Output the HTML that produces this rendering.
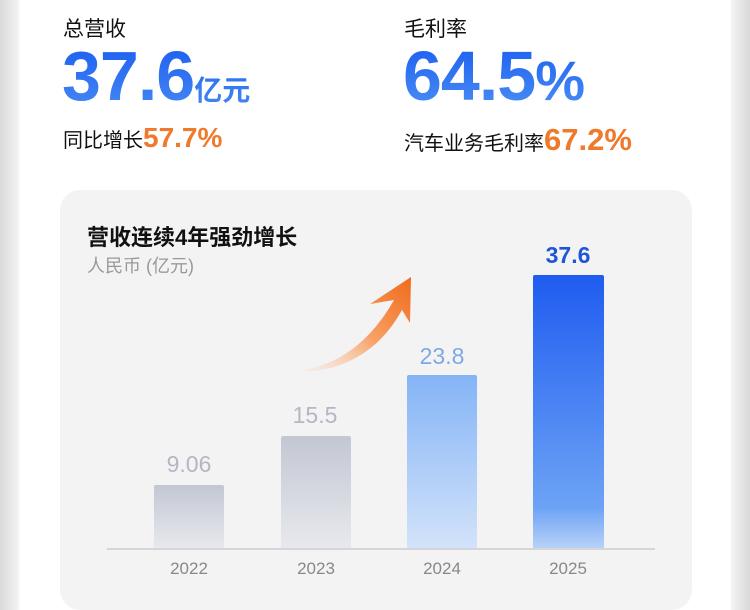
<!DOCTYPE html>
<html><head><meta charset="utf-8"><style>
body{margin:0;width:750px;height:593px;overflow:hidden;background:linear-gradient(90deg,#d9d9d9 0,#f2f2f2 18px,#fff 20px,#fff 730px,#f2f2f2 732px,#d9d9d9 750px);font-family:"Liberation Sans","Noto Sans CJK SC",sans-serif;position:relative}
.a{position:absolute;white-space:nowrap}
.big{background:linear-gradient(180deg,#1a5cf0,#4f93f5);-webkit-background-clip:text;background-clip:text;color:transparent;font-weight:bold}
</style></head><body>
<div class="a" style="left:63px;top:13px;font-size:21px;color:#111">总营收</div>
<div class="a big" style="left:62px;top:39px;font-size:70px;line-height:74px;letter-spacing:-1px">37.6<span style="font-size:28px;letter-spacing:0">亿元</span></div>
<div class="a" style="left:63px;top:122px;font-size:20px;color:#111">同比增长<span style="color:#ef7a2c;font-weight:bold;font-size:28px">57.7%</span></div>
<div class="a" style="left:404px;top:13px;font-size:21px;color:#111">毛利率</div>
<div class="a big" style="left:403px;top:39px;font-size:70px;line-height:74px;letter-spacing:-1px">64.5<span style="font-size:56px">%</span></div>
<div class="a" style="left:404px;top:122px;font-size:20px;color:#111">汽车业务毛利率<span style="color:#ef7a2c;font-weight:bold;font-size:31px">67.2%</span></div>
<div class="a" style="left:60px;top:190px;width:632px;height:420px;background:#f3f3f4;border-radius:20px"></div>
<div class="a" style="left:87px;top:220px;font-size:22px;color:#111;font-weight:bold">营收连续4年强劲增长</div>
<div class="a" style="left:87px;top:252px;font-size:18px;color:#999">人民币 (亿元)</div>
<svg class="a" style="left:0;top:0" width="750" height="593">
<defs>
<linearGradient id="g1" x1="0" y1="0" x2="0" y2="1"><stop offset="0" stop-color="#c3c7d3"/><stop offset="1" stop-color="#e8e9ee"/></linearGradient>
<linearGradient id="g3" x1="0" y1="0" x2="0" y2="1"><stop offset="0" stop-color="#84b4f6"/><stop offset="1" stop-color="#d3e3fa"/></linearGradient>
<linearGradient id="g4" x1="0" y1="0" x2="0" y2="1"><stop offset="0" stop-color="#1f5cf0"/><stop offset=".85" stop-color="#6da3f5"/><stop offset="1" stop-color="#b9d3f8"/></linearGradient>
<linearGradient id="ar" x1="0" y1="1" x2="1" y2="0"><stop offset="0" stop-color="#fbe0cf" stop-opacity=".3"/><stop offset=".5" stop-color="#f7a063"/><stop offset="1" stop-color="#f06a1c"/></linearGradient>
</defs>
<rect x="154" y="485" width="70" height="64" rx="2" fill="url(#g1)"/>
<rect x="281" y="436" width="70" height="113" rx="2" fill="url(#g1)"/>
<rect x="407" y="375" width="70" height="174" rx="2" fill="url(#g3)"/>
<rect x="533" y="275" width="71" height="274" rx="2" fill="url(#g4)"/>
<line x1="107" y1="549" x2="655" y2="549" stroke="#d6d6da" stroke-width="2"/>
<path d="M304 370 Q360 360 394 300 L370 304 L411 277 L410 323 L402 310 Q370 368 304 372 Z" fill="url(#ar)"/>
<g font-size="23" text-anchor="middle" font-family="Liberation Sans,sans-serif">
<text x="189" y="472" fill="#b4b7c2">9.06</text>
<text x="315" y="423" fill="#b4b7c2">15.5</text>
<text x="442" y="364" fill="#80a8e4">23.8</text>
<text x="568" y="263" fill="#1d56d8" font-weight="bold">37.6</text>
</g>
<g font-size="17" text-anchor="middle" fill="#888" font-family="Liberation Sans,sans-serif">
<text x="189" y="574">2022</text><text x="316" y="574">2023</text><text x="442" y="574">2024</text><text x="568" y="574">2025</text>
</g>
</svg>
</body></html>
